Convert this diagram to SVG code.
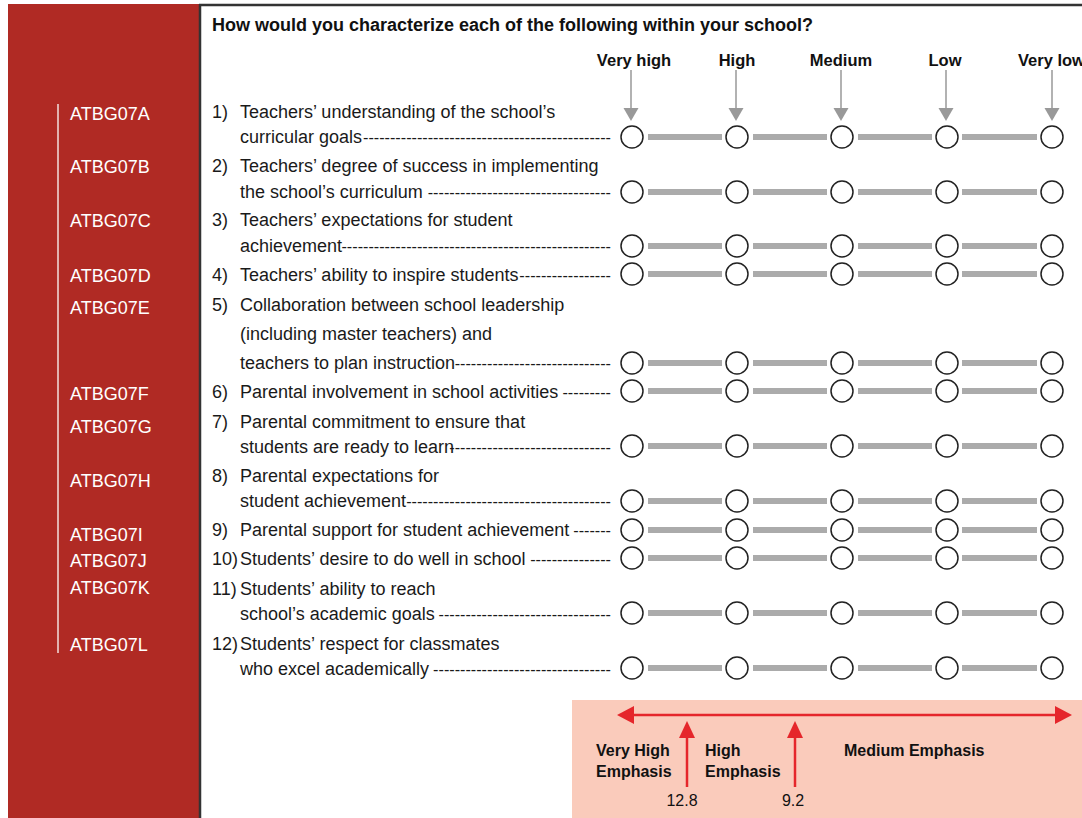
<svg xmlns="http://www.w3.org/2000/svg" width="1082" height="818" viewBox="0 0 1082 818">
<style>
.code{font-family:"Liberation Sans",Arial,sans-serif;font-size:18px;fill:#ffffff}
.q{font-family:"Liberation Sans",Arial,sans-serif;font-size:18px;fill:#1a1a1a}
.dash{font-family:"Liberation Sans",Arial,sans-serif;font-size:16.2px;fill:#1a1a1a}
.hdr{font-family:"Liberation Sans",Arial,sans-serif;font-size:18px;font-weight:bold;fill:#111}
.col{font-family:"Liberation Sans",Arial,sans-serif;font-size:16.5px;font-weight:bold;fill:#111}
.emp{font-family:"Liberation Sans",Arial,sans-serif;font-size:16px;font-weight:bold;fill:#111}
.num{font-family:"Liberation Sans",Arial,sans-serif;font-size:16px;fill:#111}
.c{fill:#ffffff;stroke:#222;stroke-width:1.5}
.bar{stroke:#ababab;stroke-width:6}
.garrow{stroke:#999;stroke-width:1.5}
.ghead{fill:#999}
.red{stroke:#e5262b;stroke-width:2.5;fill:none}
.redf{fill:#e5262b}
</style>
<defs>
<g id="scale">
<line class="bar" x1="648" y1="0" x2="722" y2="0"/>
<line class="bar" x1="753" y1="0" x2="827" y2="0"/>
<line class="bar" x1="858" y1="0" x2="932" y2="0"/>
<line class="bar" x1="962" y1="0" x2="1037" y2="0"/>
<circle class="c" cx="632" cy="0" r="11"/>
<circle class="c" cx="737" cy="0" r="11"/>
<circle class="c" cx="842" cy="0" r="11"/>
<circle class="c" cx="947" cy="0" r="11"/>
<circle class="c" cx="1052" cy="0" r="11"/>
</g>
<g id="garr">
<line class="garrow" x1="0" y1="70" x2="0" y2="110"/>
<polygon class="ghead" points="-7.5,108 7.5,108 0,121"/>
</g>
</defs>

<g id="sidebar">
<rect x="8" y="4" width="191" height="814" fill="#b02a24"/>
<line x1="58" y1="104" x2="58" y2="653" stroke="#f3e0de" stroke-width="1.5"/>
<text class="code" x="70" y="120">ATBG07A</text>
<text class="code" x="70" y="173">ATBG07B</text>
<text class="code" x="70" y="227">ATBG07C</text>
<text class="code" x="70" y="282">ATBG07D</text>
<text class="code" x="70" y="314">ATBG07E</text>
<text class="code" x="70" y="400">ATBG07F</text>
<text class="code" x="70" y="433">ATBG07G</text>
<text class="code" x="70" y="487">ATBG07H</text>
<text class="code" x="70" y="541">ATBG07I</text>
<text class="code" x="70" y="567">ATBG07J</text>
<text class="code" x="70" y="594">ATBG07K</text>
<text class="code" x="70" y="651">ATBG07L</text>
</g>

<g id="frame">
<line x1="200" y1="4" x2="200" y2="818" stroke="#333" stroke-width="2.5"/>
<line x1="199" y1="5" x2="1082" y2="5" stroke="#333" stroke-width="2.5"/>
</g>

<g id="header">
<text class="hdr" x="212" y="31">How would you characterize each of the following within your school?</text>
<text class="col" x="634" y="66" text-anchor="middle">Very high</text>
<text class="col" x="737" y="66" text-anchor="middle">High</text>
<text class="col" x="841" y="66" text-anchor="middle">Medium</text>
<text class="col" x="945" y="66" text-anchor="middle">Low</text>
<text class="col" x="1018" y="66">Very low</text>
</g>

<g id="connectors">
<use href="#garr" x="631" y="0"/>
<use href="#garr" x="736" y="0"/>
<use href="#garr" x="841" y="0"/>
<use href="#garr" x="946" y="0"/>
<use href="#garr" x="1052" y="0"/>
</g>

<g id="item1">
<text class="q" x="212" y="118">1)</text>
<text class="q" x="240" y="118">Teachers’ understanding of the school’s</text>
<text class="q" x="240" y="143">curricular goals</text>
<text class="dash" x="611" y="143" text-anchor="end">----------------------------------------------</text>
<use href="#scale" y="137"/>
</g>
<g id="item2">
<text class="q" x="212" y="172">2)</text>
<text class="q" x="240" y="172">Teachers’ degree of success in implementing</text>
<text class="q" x="240" y="198">the school’s curriculum</text>
<text class="dash" x="611" y="198" text-anchor="end">----------------------------------</text>
<use href="#scale" y="192"/>
</g>
<g id="item3">
<text class="q" x="212" y="226">3)</text>
<text class="q" x="240" y="226">Teachers’ expectations for student</text>
<text class="q" x="240" y="252">achievement</text>
<text class="dash" x="611" y="252" text-anchor="end">--------------------------------------------------</text>
<use href="#scale" y="246"/>
</g>
<g id="item4">
<text class="q" x="212" y="281">4)</text>
<text class="q" x="240" y="281">Teachers’ ability to inspire students</text>
<text class="dash" x="611" y="281" text-anchor="end">-----------------</text>
<use href="#scale" y="274"/>
</g>
<g id="item5">
<text class="q" x="212" y="311">5)</text>
<text class="q" x="240" y="311">Collaboration between school leadership</text>
<text class="q" x="240" y="340">(including master teachers) and</text>
<text class="q" x="240" y="369">teachers to plan instruction</text>
<text class="dash" x="611" y="369" text-anchor="end">-----------------------------</text>
<use href="#scale" y="363"/>
</g>
<g id="item6">
<text class="q" x="212" y="398">6)</text>
<text class="q" x="240" y="398">Parental involvement in school activities</text>
<text class="dash" x="611" y="398" text-anchor="end">---------</text>
<use href="#scale" y="391"/>
</g>
<g id="item7">
<text class="q" x="212" y="428">7)</text>
<text class="q" x="240" y="428">Parental commitment to ensure that</text>
<text class="q" x="240" y="453">students are ready to learn</text>
<text class="dash" x="611" y="453" text-anchor="end">------------------------------</text>
<use href="#scale" y="446"/>
</g>
<g id="item8">
<text class="q" x="212" y="482">8)</text>
<text class="q" x="240" y="482">Parental expectations for</text>
<text class="q" x="240" y="507">student achievement</text>
<text class="dash" x="611" y="507" text-anchor="end">--------------------------------------</text>
<use href="#scale" y="501"/>
</g>
<g id="item9">
<text class="q" x="212" y="536">9)</text>
<text class="q" x="240" y="536">Parental support for student achievement</text>
<text class="dash" x="611" y="536" text-anchor="end">-------</text>
<use href="#scale" y="530"/>
</g>
<g id="item10">
<text class="q" x="212" y="565">10)</text>
<text class="q" x="240" y="565">Students’ desire to do well in school</text>
<text class="dash" x="611" y="565" text-anchor="end">---------------</text>
<use href="#scale" y="558"/>
</g>
<g id="item11">
<text class="q" x="212" y="595">11)</text>
<text class="q" x="240" y="595">Students’ ability to reach</text>
<text class="q" x="240" y="620">school’s academic goals</text>
<text class="dash" x="611" y="620" text-anchor="end">--------------------------------</text>
<use href="#scale" y="613"/>
</g>
<g id="item12">
<text class="q" x="212" y="650">12)</text>
<text class="q" x="240" y="650">Students’ respect for classmates</text>
<text class="q" x="240" y="675">who excel academically</text>
<text class="dash" x="611" y="675" text-anchor="end">---------------------------------</text>
<use href="#scale" y="668"/>
</g>

<g id="emphasis">
<rect x="572" y="700" width="510" height="118" fill="#facbbb"/>
<line class="red" x1="630" y1="715" x2="1059" y2="715"/>
<polygon class="redf" points="617,715 634,706 634,724"/>
<polygon class="redf" points="1072,715 1055,706 1055,724"/>
<line class="red" x1="687" y1="735" x2="687" y2="787"/>
<polygon class="redf" points="687,721 679,738 695,738"/>
<line class="red" x1="795" y1="735" x2="795" y2="787"/>
<polygon class="redf" points="795,721 787,738 803,738"/>
<text class="emp" x="596" y="756">Very High</text>
<text class="emp" x="596" y="777">Emphasis</text>
<text class="emp" x="705" y="756">High</text>
<text class="emp" x="705" y="777">Emphasis</text>
<text class="emp" x="844" y="756">Medium Emphasis</text>
<text class="num" x="682" y="806" text-anchor="middle">12.8</text>
<text class="num" x="793" y="806" text-anchor="middle">9.2</text>
</g>
</svg>
